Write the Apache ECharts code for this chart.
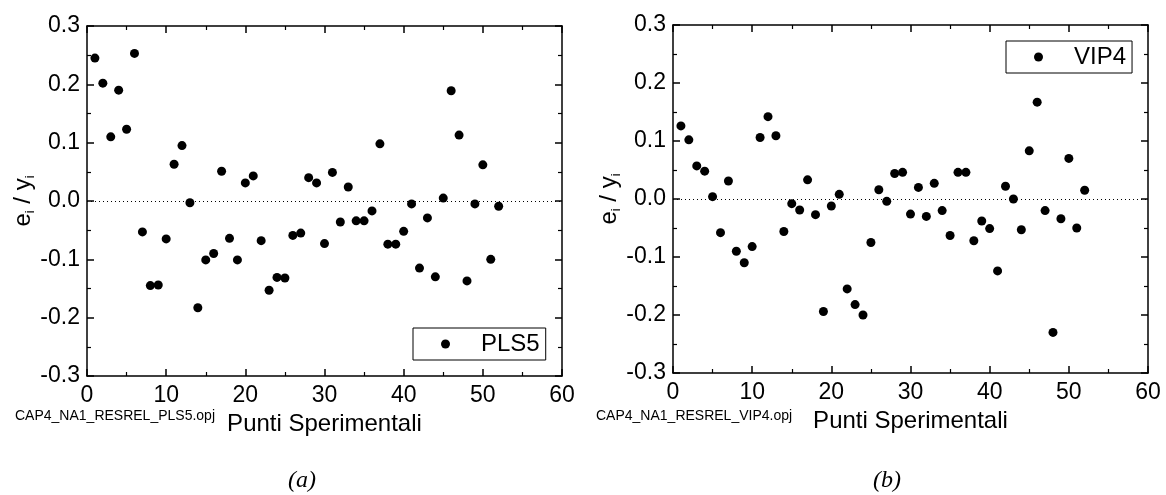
<!DOCTYPE html>
<html>
<head>
<meta charset="utf-8">
<script src="https://cdn.jsdelivr.net/npm/echarts@6/dist/echarts.min.js"></script>
<style>
  html, body { margin: 0; padding: 0; background: #fff; }
  #chart { width: 1166px; height: 495px; }
</style>
</head>
<body>
<div id="chart"></div>
<script>
// numero del punto sperimentale
const punti = [1, 2, 3, 4, 5, 6, 7, 8, 9, 10, 11, 12, 13, 14, 15, 16, 17, 18, 19, 20,
  21, 22, 23, 24, 25, 26, 27, 28, 29, 30, 31, 32, 33, 34, 35, 36, 37, 38, 39, 40,
  41, 42, 43, 44, 45, 46, 47, 48, 49, 50, 51, 52]

// residui relativi e_i / y_i
const pls5 = [0.245, 0.202, 0.110, 0.190, 0.123, 0.253, -0.053, -0.145, -0.144, -0.065,
  0.063, 0.095, -0.003, -0.183, -0.101, -0.090, 0.051, -0.064, -0.101, 0.031,
  0.043, -0.068, -0.153, -0.131, -0.132, -0.059, -0.055, 0.040, 0.031, -0.073,
  0.049, -0.036, 0.024, -0.034, -0.034, -0.017, 0.098, -0.074, -0.074, -0.052,
  -0.005, -0.115, -0.029, -0.130, 0.005, 0.189, 0.113, -0.137, -0.005, 0.062,
  -0.100, -0.009]

const vip4 = [0.126, 0.102, 0.057, 0.048, 0.004, -0.058, 0.031, -0.090, -0.110, -0.082,
  0.106, 0.142, 0.109, -0.056, -0.008, -0.019, 0.033, -0.027, -0.194, -0.012,
  0.008, -0.155, -0.182, -0.200, -0.075, 0.016, -0.004, 0.044, 0.046, -0.026,
  0.020, -0.030, 0.027, -0.020, -0.063, 0.046, 0.046, -0.072, -0.038, -0.051,
  -0.124, 0.022, 0.000, -0.053, 0.083, 0.167, -0.020, -0.230, -0.034, 0.070,
  -0.050, 0.015]

const xTicks = { min: 0, max: 60, interval: 10 }
const yTicks = { min: -0.3, max: 0.3, interval: 0.1 }

const FONT = '"Liberation Sans", Arial, sans-serif'
const LINE = { color: '#000', width: 1.5 }

function pairs(ys) {
  return punti.map((p, i) => [p, ys[i]])
}

function fmtY(v) {
  if (Math.abs(v) < 1e-9) return '0.0'
  return v.toFixed(1)
}

function xAxis(gridIndex, position, main) {
  return {
    type: 'value',
    gridIndex,
    position,
    min: xTicks.min,
    max: xTicks.max,
    interval: xTicks.interval,
    name: main ? 'Punti Sperimentali' : '',
    nameLocation: 'middle',
    nameGap: 30,
    nameTextStyle: { fontFamily: FONT, fontSize: 24, color: '#000' },
    axisLine: { show: true, onZero: false, lineStyle: LINE },
    axisTick: { show: true, inside: true, length: 7, lineStyle: LINE },
    minorTick: { show: true, splitNumber: 2, length: 4, lineStyle: { color: '#000', width: 1.2 } },
    axisLabel: { show: main, margin: 8, fontFamily: FONT, fontSize: 23, color: '#000' },
    splitLine: { show: false }
  }
}

function yAxis(gridIndex, position, main) {
  return {
    type: 'value',
    gridIndex,
    position,
    min: yTicks.min,
    max: yTicks.max,
    interval: yTicks.interval,
    name: main ? '{n|e}{s|i}{n| / y}{s|i}' : '',
    nameLocation: 'middle',
    nameRotate: 90,
    nameGap: 50,
    nameTextStyle: {
      fontFamily: FONT,
      color: '#000',
      rich: {
        n: { fontFamily: FONT, fontSize: 24, color: '#000', lineHeight: 26 },
        s: { fontFamily: FONT, fontSize: 13, color: '#000', verticalAlign: 'bottom', lineHeight: 18 }
      }
    },
    axisLine: { show: true, onZero: false, lineStyle: LINE },
    axisTick: { show: true, inside: true, length: 7, lineStyle: LINE },
    minorTick: { show: true, splitNumber: 2, length: 4, lineStyle: { color: '#000', width: 1.2 } },
    axisLabel: { show: main, margin: 7, fontFamily: FONT, fontSize: 23, color: '#000', formatter: fmtY },
    splitLine: { show: false }
  }
}

function legend(name, left, top) {
  return {
    data: [{ name, icon: 'circle', itemStyle: { color: '#000', opacity: 1 } }],
    left,
    top,
    orient: 'vertical',
    itemWidth: 9,
    itemHeight: 9,
    padding: [4, 6, 4, 28],
    borderColor: '#000',
    borderWidth: 1,
    borderRadius: 0,
    selectedMode: false,
    textStyle: { fontFamily: FONT, fontSize: 24, color: '#000', padding: [0, 0, 0, 26] }
  }
}

function residui(name, data, axisIndex) {
  return {
    name,
    type: 'scatter',
    xAxisIndex: axisIndex,
    yAxisIndex: axisIndex,
    data: pairs(data),
    symbol: 'circle',
    symbolSize: 9,
    itemStyle: { color: '#000', opacity: 1 },
    silent: true,
    markLine: {
      silent: true,
      symbol: ['none', 'none'],
      label: { show: false },
      lineStyle: { color: '#000', type: [1, 3], width: 1, opacity: 1 },
      data: [{ yAxis: 0 }]
    }
  }
}

const chart = echarts.init(document.getElementById('chart'), null, { renderer: 'canvas' })

chart.setOption({
  animation: false,
  backgroundColor: '#fff',
  grid: [
    { left: 87, top: 26, width: 475, height: 350 },
    { left: 673, top: 25, width: 475, height: 348 }
  ],
  xAxis: [
    xAxis(0, 'bottom', true),
    xAxis(0, 'top', false),
    xAxis(1, 'bottom', true),
    xAxis(1, 'top', false)
  ],
  yAxis: [
    yAxis(0, 'left', true),
    yAxis(0, 'right', false),
    yAxis(1, 'left', true),
    yAxis(1, 'right', false)
  ],
  legend: [
    legend('PLS5', 413, 328),
    legend('VIP4', 1006, 41)
  ],
  series: [
    residui('PLS5', pls5, 0),
    residui('VIP4', vip4, 2)
  ],
  graphic: [
    { type: 'text', left: 15, top: 409, style: { text: 'CAP4_NA1_RESREL_PLS5.opj', font: '14px ' + FONT, fill: '#000' } },
    { type: 'text', left: 596, top: 409, style: { text: 'CAP4_NA1_RESREL_VIP4.opj', font: '14px ' + FONT, fill: '#000' } },
    { type: 'text', left: 288, top: 469, style: { text: '(a)', font: 'italic 24px "Liberation Serif", "Times New Roman", serif', fill: '#000' } },
    { type: 'text', left: 873, top: 469, style: { text: '(b)', font: 'italic 24px "Liberation Serif", "Times New Roman", serif', fill: '#000' } }
  ]
})
</script>
</body>
</html>
